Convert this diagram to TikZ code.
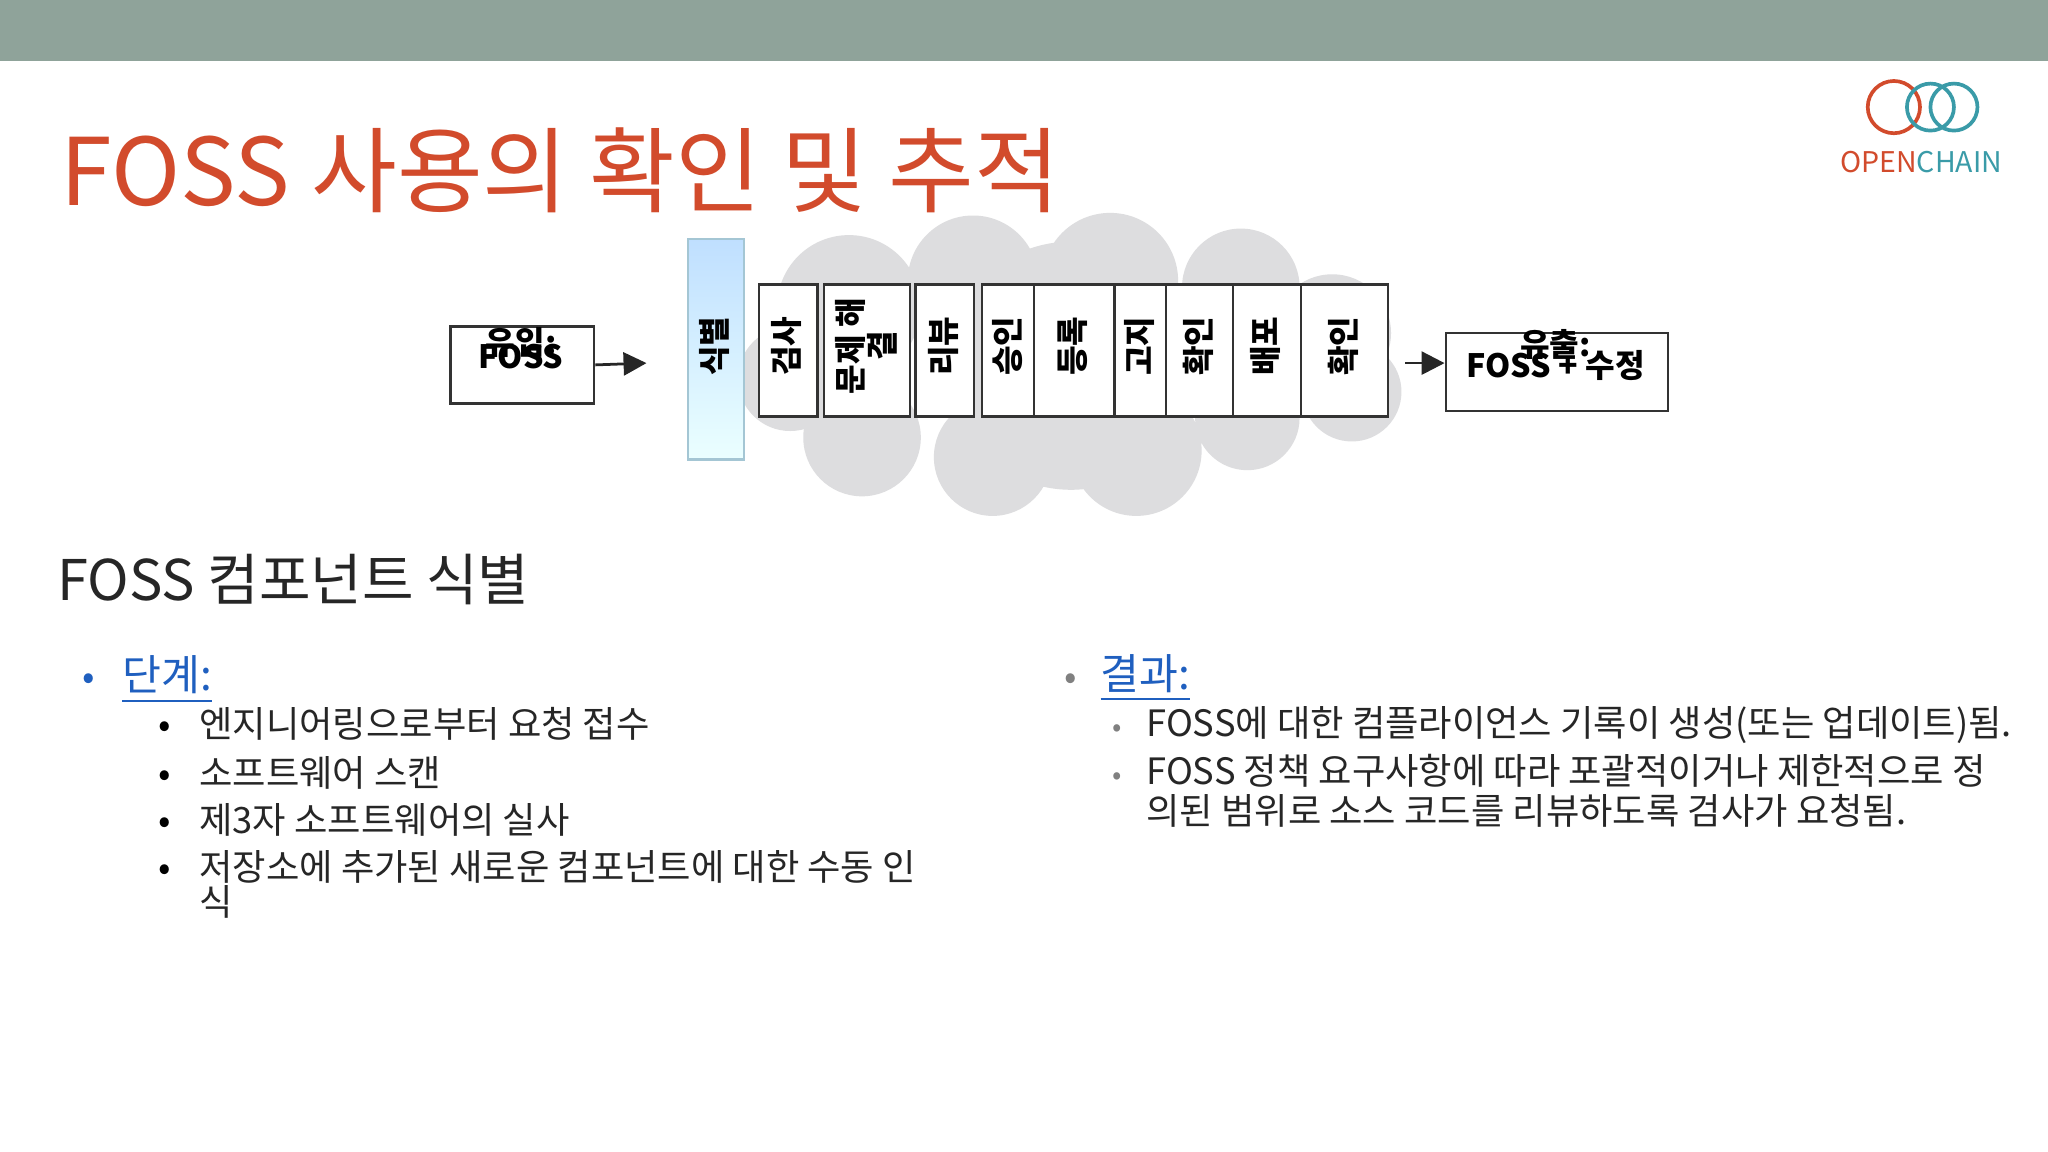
\documentclass[tikz,border=0pt]{standalone}
\usepackage{fontspec}
\setmainfont{Noto Sans CJK KR}
\usetikzlibrary{arrows.meta}
\begin{document}
\begin{tikzpicture}[x=0.01cm,y=-0.01cm,
  stagebox/.style={draw=black!80,line width=0.5pt,fill=white,minimum height=101*0.01cm,anchor=north west,inner sep=0pt},
  vtext/.style={rotate=90,font=\fontsize{7}{7}\selectfont\bfseries,align=center},
  flow/.style={-{Triangle[length=5pt,width=5pt]},line width=0.6pt,black!85},
  bodytxt/.style={font=\fontsize{7.9}{9}\selectfont,anchor=base west,inner sep=0pt},
  dot/.style={font=\fontsize{8}{8}\selectfont,anchor=base,inner sep=0pt}]
\definecolor{bar}{HTML}{8FA39A}
\definecolor{ttl}{HTML}{D24B2C}
\definecolor{teal}{HTML}{3A9BA8}
\definecolor{lnk}{HTML}{1F5FBF}
\definecolor{cloud}{HTML}{DDDDDF}
\useasboundingbox (0,0) rectangle (1568,882);
\fill[white] (0,0) rectangle (1568,882);
\fill[bar] (0,0) rectangle (1568,47);
% title
\node[anchor=base west,inner sep=0pt,text=ttl,font=\fontsize{20.3}{21}\selectfont] (title) at (46,157) {FOSS 사용의 확인 및 추적};
% logo
\draw[ttl,line width=0.8pt] (1450,82) circle (20);
\draw[teal,line width=0.8pt] (1478,82) circle (18);
\draw[teal,line width=0.8pt] (1496,82) circle (18);
\node[inner sep=0pt,font=\fontsize{6.2}{6}\selectfont] (logo) at (1471,124) {\textcolor{ttl}{OPEN}\textcolor{teal}{CHAIN}};
% cloud
\fill[cloud] (650,235) circle (55) (745,215) circle (50) (850,215) circle (52) (950,220) circle (45)
 (1020,255) circle (45) (1035,300) circle (38) (955,320) circle (40) (870,345) circle (50)
 (760,350) circle (45) (660,335) circle (45) (605,290) circle (40) (820,280) circle (95);
% boxes
\node[draw=black!80,line width=0.5pt,minimum width=110*0.01cm,minimum height=59*0.01cm,anchor=north west,inner sep=0pt] (in) at (344,249) {};
\node[font=\fontsize{7}{6}\selectfont\bfseries,align=center,anchor=north,inner sep=0pt] (intxt) at (399,250) {유입:\\[-3pt]FOSS};
\node[draw=black!80,line width=0.5pt,minimum width=170*0.01cm,minimum height=60*0.01cm,anchor=north west,inner sep=0pt] (out) at (1106,254) {};
\node[font=\fontsize{7}{6}\selectfont\bfseries,align=center,inner sep=0pt] (outtxt) at (1191,272) {유출:\\[-3pt]FOSS + 수정};
\node[draw=cyan!40!gray!60,line width=0.5pt,top color=cyan!50!blue!25!white,bottom color=cyan!8,minimum width=43*0.01cm,minimum height=169*0.01cm,anchor=north west,inner sep=0pt] (id) at (526,182) {};
\node[vtext] at (547,265) {식별};
\foreach \a/\b/\n/\t in {580/625/s1/검사,700/745/s3/리뷰,751/791/s4/승인,791/852/s5/등록,853/892/s6/고지,892/943/s7/확인,943/995/s8/배포,995/1062/s9/확인}{
  \node[stagebox,minimum width={(\b-\a)*0.01cm}] (\n) at (\a,217) {};
  \node[vtext] at ({(\a+\b)/2},265) {\t};
}
\node[stagebox,minimum width=66*0.01cm] (s2) at (630,217) {};
\node[vtext] at (663,265) {문제 해\\결};
\draw[flow] (in.east) -- (495,278);
\draw[flow] (s9.east |- 0,278) ++(12,0) -- (out.west |- 0,278);
% heading
\node[anchor=base west,inner sep=0pt,font=\fontsize{12.2}{14}\selectfont,text=black!85] (h) at (43,460) {FOSS 컴포넌트 식별};
% left column
\node[dot,text=lnk] at (68,528) {•};
\node[bodytxt,text=lnk,font=\fontsize{9.2}{10}\selectfont] (l0) at (93,529) {\underline{단계:}};
\foreach \y/\t in {565/엔지니어링으로부터 요청 접수,602/소프트웨어 스캔,638/제3자 소프트웨어의 실사,674/저장소에 추가된 새로운 컴포넌트에 대한 수동 인,701/식}{
  \node[bodytxt,text=black!85] at (152,\y) {\t};
}
\foreach \y in {565,602,638,674}{\node[dot] at (126,\y) {•};}
% right column
\node[dot,text=gray] at (820,528) {•};
\node[bodytxt,text=lnk,font=\fontsize{9.2}{10}\selectfont] (r0) at (842,528) {\underline{결과:}};
\foreach \y/\t in {564/{FOSS에 대한 컴플라이언스 기록이 생성(또는 업데이트)됨.},601/{FOSS 정책 요구사항에 따라 포괄적이거나 제한적으로 정},631/{의된 범위로 소스 코드를 리뷰하도록 검사가 요청됨.}}{
  \node[bodytxt,text=black!85] at (877,\y) {\t};
}
\foreach \y in {564,601}{\node[dot,text=gray,font=\fontsize{6}{6}\selectfont] at (855,\y) {•};}
\end{tikzpicture}
\end{document}
